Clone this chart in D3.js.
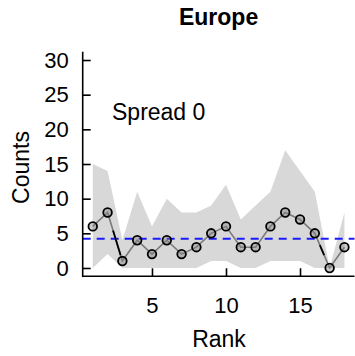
<!DOCTYPE html>
<html>
<head>
<meta charset="utf-8">
<script src="https://cdn.jsdelivr.net/npm/d3@7"></script>
<style>
  html, body { margin: 0; padding: 0; background: #fff; }
  svg { display: block; font-family: "Liberation Sans", Arial, Helvetica, sans-serif; }
</style>
</head>
<body>
<svg id="chart" width="355" height="356"></svg>
<script>
// Observed counts per rank, with the simulated envelope around them
const ranks = [1, 2, 3, 4, 5, 6, 7, 8, 9, 10, 11, 12, 13, 14, 15, 16, 17, 18];
const counts = [6, 8, 1, 4, 2, 4, 2, 3, 5, 6, 3, 3, 6, 8, 7, 5, 0, 3];
const envelopeLow = [0, 2, 0, 0, 0, 0, 0, 0, 1, 1, 0, 0, 1, 1, 1, 0, 0, 0];
const envelopeHigh = [15, 14, 4, 11, 6, 10, 8, 8, 9, 12, 7, 9, 11, 17, 14, 11, 0, 8];
const xTicks = [5, 10, 15];
const yTicks = [0, 5, 10, 15, 20, 25, 30];
// Steep drops get a black highlight stroke over the gray line (start rank)
const highlightFrom = [2, 16];
const titleText = "Europe";
const noteText = "Spread 0";

const svg = d3.select("#chart");

// Plot region with 4% padding on both data ranges
const x = d3.scaleLinear().domain([1 - 0.68, 18 + 0.68]).range([82.7, 354.5]);
const y = d3.scaleLinear().domain([-1.2, 31.2]).range([276.3, 51.7]);

const rows = ranks.map((r, i) => ({ r, c: counts[i], lo: envelopeLow[i], hi: envelopeHigh[i] }));
const mean = d3.mean(counts);

// Envelope band
svg.append("path")
  .datum(rows)
  .attr("fill", "#d8d8d8")
  .attr("d", d3.area().x(d => x(d.r)).y0(d => y(d.lo)).y1(d => y(d.hi)));

// Mean line
svg.append("line")
  .attr("x1", x.range()[0]).attr("x2", x.range()[1])
  .attr("y1", y(mean)).attr("y2", y(mean))
  .attr("stroke", "#1a1aff").attr("stroke-width", 2)
  .attr("stroke-dasharray", "8,6");

// Connecting line
svg.append("path")
  .datum(rows)
  .attr("fill", "none")
  .attr("stroke", "#7a7a7a")
  .attr("stroke-width", 1.6)
  .attr("d", d3.line().x(d => x(d.r)).y(d => y(d.c)));

// Black highlight over the middle part of each steep segment
const highlightSpan = { 2: [0.37, 0.88], 16: [0.34, 0.63] };
highlightFrom.forEach(s => {
  const a = rows[s - 1], b = rows[s];
  const [t0, t1] = highlightSpan[s];
  const ix = d3.interpolateNumber(x(a.r), x(b.r));
  const iy = d3.interpolateNumber(y(a.c), y(b.c));
  svg.append("line")
    .attr("x1", ix(t0)).attr("y1", iy(t0))
    .attr("x2", ix(t1)).attr("y2", iy(t1))
    .attr("stroke", "#000").attr("stroke-width", 1.8);
});

// Points
svg.append("g").selectAll("circle")
  .data(rows).join("circle")
  .attr("cx", d => x(d.r)).attr("cy", d => y(d.c))
  .attr("r", 4.3)
  .attr("fill", "rgba(128,128,128,0.4)")
  .attr("stroke", "#000").attr("stroke-width", 1.8);

// Axes: L-shaped frame with inward ticks
const axisG = svg.append("g").attr("stroke", "#000").attr("stroke-width", 1.6);
axisG.append("line").attr("x1", x.range()[0]).attr("x2", x.range()[0])
  .attr("y1", y.range()[1]).attr("y2", y.range()[0] + 0.8);
axisG.append("line").attr("x1", x.range()[0]).attr("x2", x.range()[1])
  .attr("y1", y.range()[0]).attr("y2", y.range()[0]);

const yAxis = d3.axisLeft(y).tickValues(yTicks).tickSize(-8).tickPadding(14).tickFormat(d3.format("d"));
const gy = svg.append("g").attr("transform", `translate(${x.range()[0]},0)`).call(yAxis);
gy.select(".domain").remove();
gy.selectAll("line").attr("stroke", "#000").attr("stroke-width", 1.6);
gy.selectAll("text").attr("font-size", 22).attr("fill", "#000");

const xAxis = d3.axisBottom(x).tickValues(xTicks).tickSize(-8).tickPadding(21).tickFormat(d3.format("d"));
const gx = svg.append("g").attr("transform", `translate(0,${y.range()[0]})`).call(xAxis);
gx.select(".domain").remove();
gx.selectAll("line").attr("stroke", "#000").attr("stroke-width", 1.6);
gx.selectAll("text").attr("font-size", 22).attr("fill", "#000");

// Titles
svg.append("text").attr("x", 218.6).attr("y", 25).attr("text-anchor", "middle")
  .attr("font-size", 23).attr("font-weight", "bold").text(titleText);
svg.append("text").attr("x", 219).attr("y", 347).attr("text-anchor", "middle")
  .attr("font-size", 23).text("Rank");
svg.append("text").attr("transform", "translate(29,167.5) rotate(-90)").attr("text-anchor", "middle")
  .attr("font-size", 23).text("Counts");
svg.append("text").attr("x", 112).attr("y", 120).attr("font-size", 23).text(noteText);
</script>
</body>
</html>
